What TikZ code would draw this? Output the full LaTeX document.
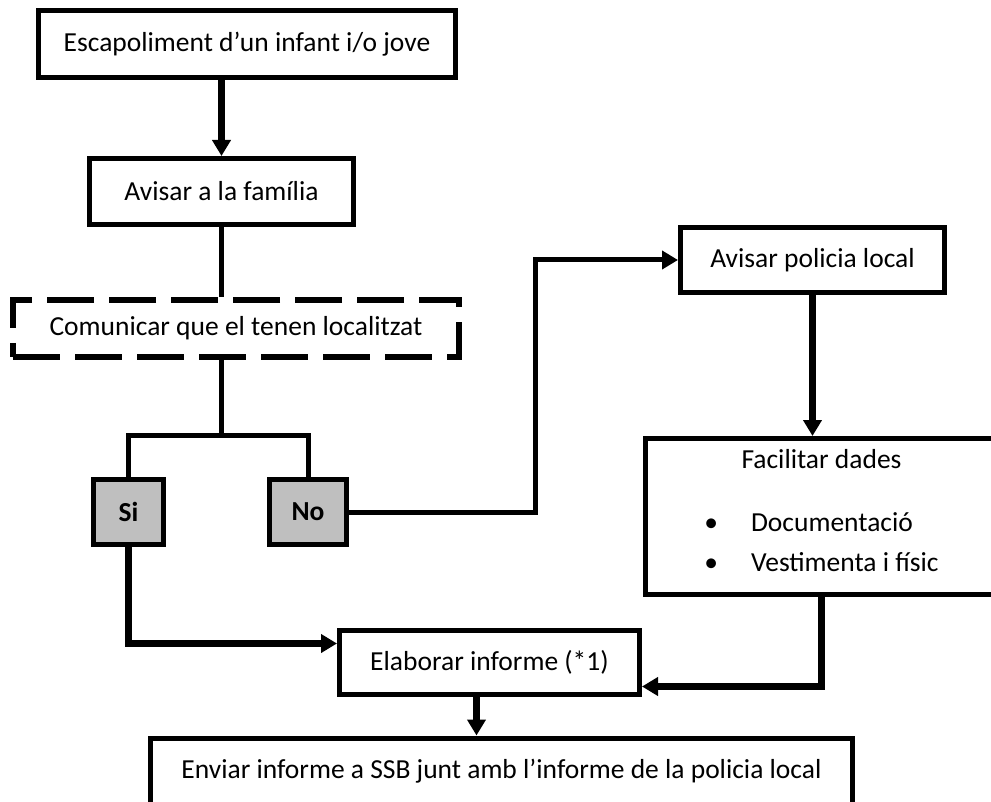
\documentclass[tikz,border=0pt]{standalone}
\usepackage{fontspec}
\setmainfont{Carlito}
\usetikzlibrary{arrows.meta}

\tikzset{
	box/.style={draw, line width=5pt, fill=white, align=center, inner sep=0pt, font=\fontsize{27.5}{40}\selectfont},
	dashbox/.style={box, line width=6pt, dash pattern=on 47pt off 15pt},
	choice/.style={box, fill=black!25, font=\fontsize{27.5}{31}\selectfont\bfseries},
	line/.style={line width=5pt},
	arr/.style={line width=7pt, -{Triangle[length=16pt,width=18pt]}}
}

\begin{document}
\begin{tikzpicture}[x=1pt,y=-1pt]
	\useasboundingbox (0,0) rectangle (991,802);
	
	\node[box, minimum width=417, minimum height=67] (esc) at (247,44) {Escapoliment d’un infant i/o jove};
	\node[box, minimum width=264, minimum height=66] (fam) at (221.5,191.5) {Avisar a la família};
	\node[dashbox, minimum width=446, minimum height=57] (com) at (236,328.5) {Comunicar que el tenen localitzat};
	\node[choice, minimum width=70, minimum height=65] (si) at (128.5,512) {Si};
	\node[choice, minimum width=77, minimum height=65] (no) at (308,512) {No};
	\node[box, minimum width=264, minimum height=65] (pol) at (812.5,260) {Avisar policia local};
	\node[box, minimum width=352, minimum height=156] (dad) at (821.5,516.5) {Facilitar dades\\[23pt]
		\begin{tabular}[t]{@{}l@{\hspace{33pt}}l@{}}\textbullet & Documentació\\ \textbullet & Vestimenta i físic\end{tabular}};
	\node[box, minimum width=300, minimum height=64] (inf) at (489.5,662.5) {Elaborar informe (*1)};
	\node[box, minimum width=702, minimum height=66] (env) at (501.5,771) {Enviar informe a SSB junt amb l’informe de la policia local};
	
	\coordinate (split) at (221.5,435);
	\coordinate (bend) at (535,400);
	
	\draw[arr] (fam.north |- esc.south) -- (fam.north);
	\draw[line] (fam.south) -- (fam.south |- com.north);
	\draw[line] (fam.south |- com.south) -- (split);
	\draw[line] (si.north) |- (split) -| (no.north);
	\draw[arr, line width=5pt] (no.east) -- (no.east -| bend) -- (bend |- pol.west) -- (pol.west);
	\draw[arr] (pol.south) -- (pol.south |- dad.north);
	\draw[arr] (dad.south) |- ([yshift=-24pt]inf.east);
	\draw[arr] (si.south) |- ([yshift=19pt]inf.west);
	\draw[arr] ([xshift=-13pt]inf.south) -- ([xshift=-13pt]inf.south |- env.north);
\end{tikzpicture}
\end{document}
